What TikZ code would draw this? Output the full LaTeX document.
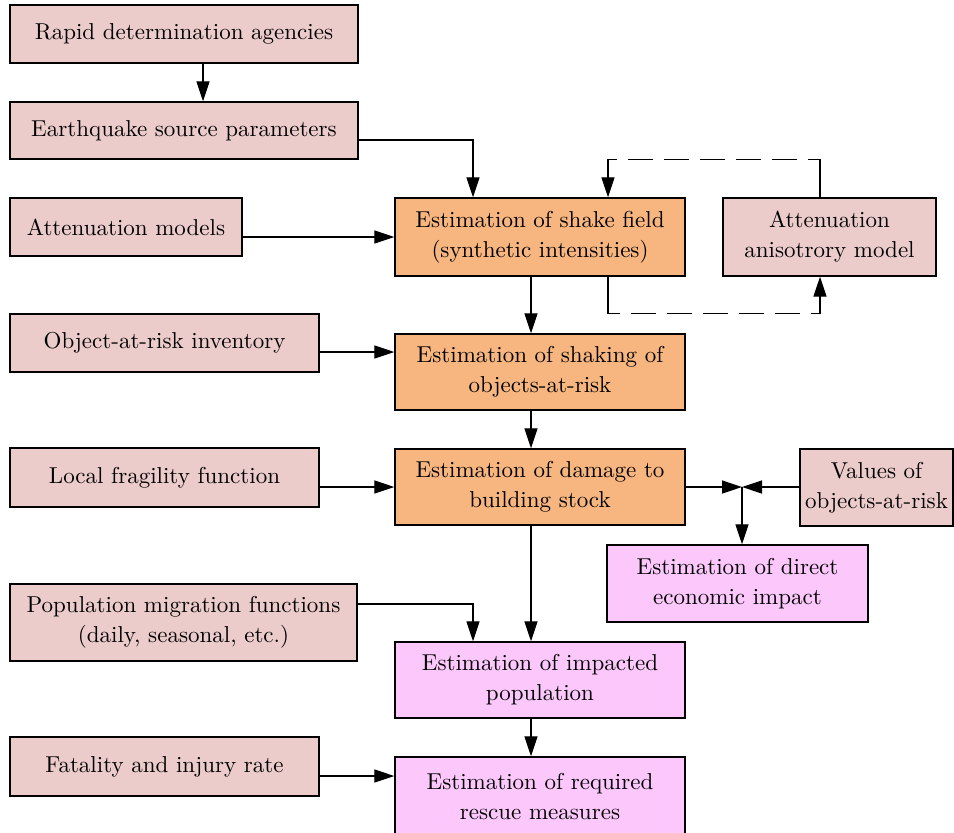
\documentclass[tikz,border=0pt]{standalone}
\usepackage{fontspec}
\setmainfont{lmroman10-regular}[Extension=.otf]
\usetikzlibrary{arrows.meta}
\definecolor{inpink}{HTML}{ECCCCB}
\definecolor{procorange}{HTML}{F7B57F}
\definecolor{outmag}{HTML}{FCC8FC}
\begin{document}
\begin{tikzpicture}[x=1pt,y=-1pt,
  box/.style={draw=black, line width=1.4pt, inner sep=0pt, align=center,
    font=\fontsize{23}{30}\selectfont},
  inbox/.style={box, fill=inpink},
  procbox/.style={box, fill=procorange},
  outbox/.style={box, fill=outmag},
  conn/.style={line width=1.3pt},
  arr/.style={conn, -{Triangle[length=20pt,width=13pt]}},
  dashline/.style={conn, dash pattern=on 25pt off 11pt}
]
\path[use as bounding box] (0,0) rectangle (954,833);
\clip (0,0) rectangle (954,833);

\node[inbox, minimum width=348pt, minimum height=58pt] (rapid) at (184,34) {Rapid determination agencies};
\node[inbox, minimum width=348pt, minimum height=57pt] (quake) at (184,130.5) {Earthquake source parameters};
\node[inbox, minimum width=232pt, minimum height=58pt] (attm) at (126,227) {Attenuation models};
\node[procbox, minimum width=290pt, minimum height=78pt] (shake) at (540,237) {Estimation of shake field\\(synthetic intensities)};
\node[inbox, minimum width=213pt, minimum height=78pt] (aniso) at (829.5,237) {Attenuation\\anisotrory model};
\node[inbox, minimum width=309pt, minimum height=58pt] (inv) at (164.5,343) {Object-at-risk inventory};
\node[procbox, minimum width=290pt, minimum height=76pt] (shaking) at (540,372) {Estimation of shaking of\\objects-at-risk};
\node[inbox, minimum width=309pt, minimum height=59pt] (frag) at (164.5,477.5) {Local fragility function};
\node[procbox, minimum width=290pt, minimum height=76pt] (damage) at (540,487) {Estimation of damage to\\building stock};
\node[inbox, minimum width=153pt, minimum height=77pt] (values) at (876.5,487.5) {Values of\\objects-at-risk};
\node[outbox, minimum width=261pt, minimum height=77pt] (econ) at (737.5,583.5) {Estimation of direct\\economic impact};
\node[inbox, minimum width=347pt, minimum height=77pt] (popmig) at (183.5,622.5) {Population migration functions\\(daily, seasonal, etc.)};
\node[outbox, minimum width=290pt, minimum height=76pt] (impact) at (540,680) {Estimation of impacted\\population};
\node[inbox, minimum width=309pt, minimum height=59pt] (fatal) at (164.5,766.5) {Fatality and injury rate};
\node[outbox, minimum width=290pt, minimum height=79pt] (rescue) at (540,796.5) {Estimation of required\\rescue measures};

% main connectors
\draw[arr] ([xshift=19pt]rapid.south) -- ([xshift=19pt]quake.north);
\draw[arr] ([yshift=-9.5pt]quake.east) -| ([xshift=-67pt]shake.north);
\draw[arr] (attm.east |- shake.west) -- (shake.west);
\draw[arr] ([yshift=-9pt]inv.east) -- ([yshift=-9pt]inv.east -| shaking.west);
\draw[arr] (frag.east |- damage.west) -- (damage.west);
\draw[arr] ([yshift=-9.5pt]fatal.east) -- ([yshift=-9.5pt]fatal.east -| rescue.west);
\draw[arr] ([xshift=-9pt]shake.south) -- ([xshift=-9pt]shaking.north);
\draw[arr] ([xshift=-9pt]shaking.south) -- ([xshift=-9pt]damage.north);
\draw[arr] ([xshift=-9pt]damage.south) -- ([xshift=-9pt]impact.north);
\draw[arr] ([xshift=-9pt]impact.south) -- ([xshift=-9pt]rescue.north);
\draw[arr] ([yshift=18.5pt]popmig.east) -| ([xshift=-67pt]impact.north);

% junction to economic impact
\coordinate (J) at (742,487);
\draw[arr] (damage.east) -- (J);
\draw[arr] (values.west |- J) -- (J);
\draw[arr] (J) -- (J |- econ.north);

% feedback loop with anisotropy model
\coordinate (a1) at ([xshift=68pt]shake.south);
\coordinate (a2) at ([yshift=-24pt]a1);
\coordinate (a3) at ([yshift=-37pt]a1);
\coordinate (b1) at ([xshift=-9.5pt]aniso.south);
\coordinate (b3) at (a3 -| b1);
\draw[conn] (a1) -- (a2);
\draw[dashline] (a2) -- (a3) -- (b3);
\draw[arr] (b3) -- (b1);

\coordinate (c1) at ([xshift=-9.5pt]aniso.north);
\coordinate (c2) at ([yshift=25pt]c1);
\coordinate (c3) at ([yshift=38pt]c1);
\coordinate (t1) at ([xshift=68pt]shake.north);
\coordinate (t3) at (c3 -| t1);
\draw[conn] (c1) -- (c2);
\draw[dashline] (c2) -- (c3) -- (t3);
\draw[arr] (t3) -- (t1);
\end{tikzpicture}
\end{document}
